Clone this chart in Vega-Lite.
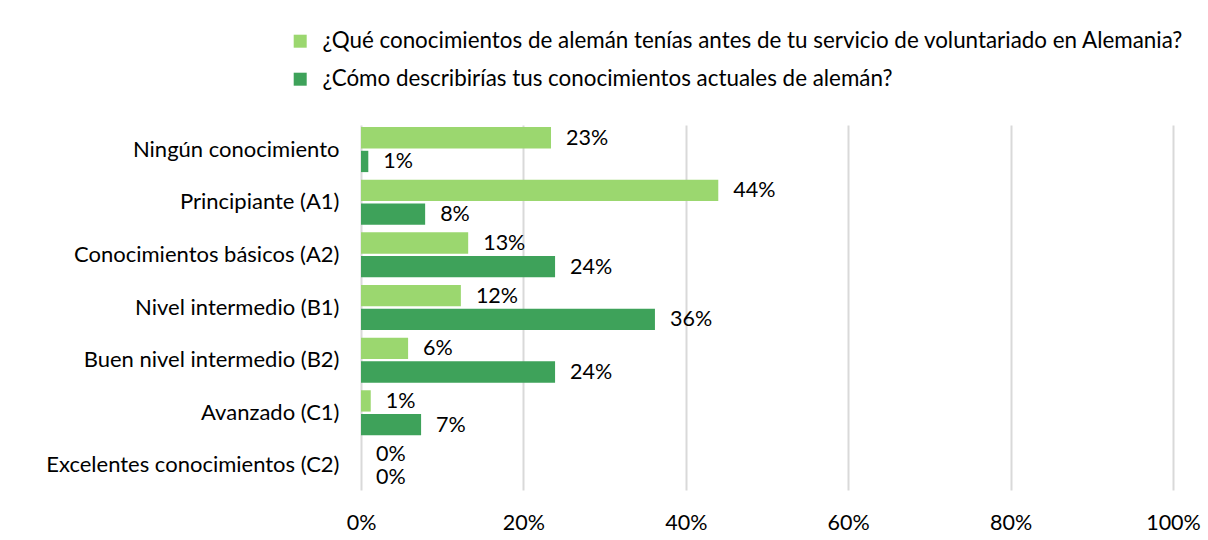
{
  "$schema": "https://vega.github.io/schema/vega-lite/v6.json",
  "width": 812,
  "height": 365,
  "autosize": {"type": "none"},
  "padding": {"left": 361, "top": 125, "right": 35, "bottom": 50},
  "background": "white",
  "config": {
    "font": "Lato",
    "view": {"stroke": null},
    "axis": {"labelFont": "Lato", "labelColor": "#000000", "labelFontSize": 22}
  },
  "data": {
    "values": [
      {"cat": "Ningún conocimiento", "series": "¿Qué conocimientos de alemán tenías antes de tu servicio de voluntariado en Alemania?", "value": 0.234},
      {"cat": "Ningún conocimiento", "series": "¿Cómo describirías tus conocimientos actuales de alemán?", "value": 0.009},
      {"cat": "Principiante (A1)", "series": "¿Qué conocimientos de alemán tenías antes de tu servicio de voluntariado en Alemania?", "value": 0.44},
      {"cat": "Principiante (A1)", "series": "¿Cómo describirías tus conocimientos actuales de alemán?", "value": 0.079},
      {"cat": "Conocimientos básicos (A2)", "series": "¿Qué conocimientos de alemán tenías antes de tu servicio de voluntariado en Alemania?", "value": 0.132},
      {"cat": "Conocimientos básicos (A2)", "series": "¿Cómo describirías tus conocimientos actuales de alemán?", "value": 0.239},
      {"cat": "Nivel intermedio (B1)", "series": "¿Qué conocimientos de alemán tenías antes de tu servicio de voluntariado en Alemania?", "value": 0.123},
      {"cat": "Nivel intermedio (B1)", "series": "¿Cómo describirías tus conocimientos actuales de alemán?", "value": 0.362},
      {"cat": "Buen nivel intermedio (B2)", "series": "¿Qué conocimientos de alemán tenías antes de tu servicio de voluntariado en Alemania?", "value": 0.058},
      {"cat": "Buen nivel intermedio (B2)", "series": "¿Cómo describirías tus conocimientos actuales de alemán?", "value": 0.239},
      {"cat": "Avanzado (C1)", "series": "¿Qué conocimientos de alemán tenías antes de tu servicio de voluntariado en Alemania?", "value": 0.012},
      {"cat": "Avanzado (C1)", "series": "¿Cómo describirías tus conocimientos actuales de alemán?", "value": 0.074},
      {"cat": "Excelentes conocimientos (C2)", "series": "¿Qué conocimientos de alemán tenías antes de tu servicio de voluntariado en Alemania?", "value": 0},
      {"cat": "Excelentes conocimientos (C2)", "series": "¿Cómo describirías tus conocimientos actuales de alemán?", "value": 0}
    ]
  },
  "encoding": {
    "y": {
      "field": "cat",
      "type": "nominal",
      "sort": ["Ningún conocimiento", "Principiante (A1)", "Conocimientos básicos (A2)", "Nivel intermedio (B1)", "Buen nivel intermedio (B2)", "Avanzado (C1)", "Excelentes conocimientos (C2)"],
      "scale": {"paddingInner": 0.145, "paddingOuter": 0.04},
      "axis": {"title": null, "domain": false, "ticks": false, "labelPadding": 22, "labelLimit": 0}
    },
    "yOffset": {
      "field": "series",
      "type": "nominal",
      "sort": ["¿Qué conocimientos de alemán tenías antes de tu servicio de voluntariado en Alemania?", "¿Cómo describirías tus conocimientos actuales de alemán?"],
      "scale": {"paddingInner": 0.1}
    },
    "x": {
      "field": "value",
      "type": "quantitative",
      "scale": {"domain": [0, 1]},
      "axis": {
        "title": null,
        "format": ".0%",
        "values": [0, 0.2, 0.4, 0.6, 0.8, 1],
        "domain": false,
        "ticks": false,
        "labelFlush": false,
        "labelFontSize": 21.5,
        "labelPadding": 22,
        "grid": true,
        "gridColor": "#d9d9d9",
        "gridWidth": 2
      }
    }
  },
  "layer": [
    {
      "mark": {"type": "bar"},
      "encoding": {
        "color": {
          "field": "series",
          "type": "nominal",
          "sort": ["¿Qué conocimientos de alemán tenías antes de tu servicio de voluntariado en Alemania?", "¿Cómo describirías tus conocimientos actuales de alemán?"],
          "scale": {"range": ["#9bd76f", "#3ea25a"]},
          "legend": {
            "title": null,
            "orient": "none",
            "legendX": -72,
            "legendY": -95,
            "symbolType": "square",
            "symbolSize": 169,
            "symbolStrokeWidth": 0,
            "labelFont": "Lato",
            "labelFontSize": 22.4,
            "labelColor": "#000000",
            "labelLimit": 0,
            "labelOffset": 11,
            "rowPadding": 15
          }
        }
      }
    },
    {
      "mark": {"type": "text", "align": "left", "baseline": "middle", "dx": 15, "dy": 1, "font": "Lato", "fontSize": 21.5, "color": "#000000"},
      "encoding": {
        "text": {"field": "value", "type": "quantitative", "format": ".0%"}
      }
    }
  ]
}
